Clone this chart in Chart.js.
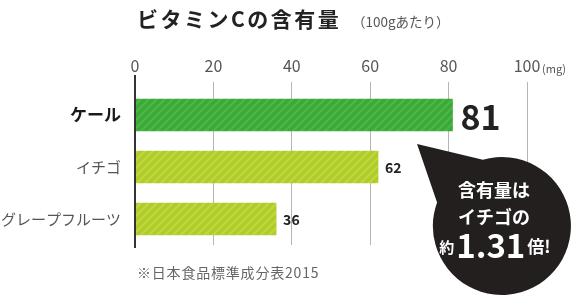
<!DOCTYPE html>
<html>
<head>
<meta charset="utf-8">
<script src="https://cdn.jsdelivr.net/npm/chart.js@4"></script>
<style>
  html, body { margin: 0; padding: 0; background: #fff; }
  #wrap { position: relative; width: 585px; height: 295px; }
</style>
</head>
<body>
<div id="wrap"><canvas id="vitaminChart" width="585" height="295"></canvas></div>
<script>
const foods = ['ケール', 'イチゴ', 'グレープフルーツ'];
const vitaminC = [81, 62, 36];
const xTicks = [0, 20, 40, 60, 80, 100];

const JP = '"Noto Sans CJK JP", "Noto Sans", sans-serif';

// crayon-ish fill for the bars
function makeFill(base, light, dark) {
  const c = document.createElement('canvas');
  c.width = 24; c.height = 24;
  const g = c.getContext('2d');
  g.fillStyle = base;
  g.fillRect(0, 0, 24, 24);
  g.lineWidth = 1.2;
  for (let i = -24; i < 48; i += 8) {
    g.strokeStyle = light;
    g.beginPath(); g.moveTo(i, 24); g.lineTo(i + 24, 0); g.stroke();
    g.strokeStyle = dark;
    g.beginPath(); g.moveTo(i + 4, 24); g.lineTo(i + 28, 0); g.stroke();
  }
  return g.createPattern(c, 'repeat');
}

const kaleFill = makeFill('#3fae3c', 'rgba(130,210,90,0.35)', 'rgba(30,140,40,0.25)');
const fruitFill = makeFill('#b3d02e', 'rgba(225,240,120,0.35)', 'rgba(150,185,20,0.25)');

const extras = {
  id: 'extras',
  afterDraw(chart) {
    const { ctx, chartArea, scales } = chart;
    const x = scales.x;
    const x0 = x.getPixelForValue(0);
    ctx.save();

    // title
    ctx.fillStyle = '#222';
    ctx.textBaseline = 'middle';
    ctx.textAlign = 'left';
    ctx.font = 'bold 21px ' + JP;
    ctx.letterSpacing = '2.5px';
    ctx.fillText('ビタミンCの含有量', 137, 19);
    ctx.letterSpacing = '0px';
    ctx.fillStyle = '#555';
    ctx.font = '13.5px ' + JP;
    ctx.fillText('（100gあたり）', 352, 22);

    // unit next to the last tick
    ctx.font = '11px ' + JP;
    ctx.fillStyle = '#555';
    ctx.fillText('(mg)', x.getPixelForValue(100) + 15, 69);

    // axis line at 0
    ctx.strokeStyle = '#333';
    ctx.lineWidth = 2;
    ctx.beginPath();
    ctx.moveTo(x0, chartArea.top - 14);
    ctx.lineTo(x0, chartArea.bottom + 3);
    ctx.stroke();

    // value labels
    const bars = chart.getDatasetMeta(0).data;
    bars.forEach((bar, i) => {
      ctx.fillStyle = '#222';
      ctx.textAlign = 'left';
      ctx.textBaseline = 'middle';
      if (i === 0) {
        ctx.font = 'bold 34px ' + JP;
        ctx.fillText(String(vitaminC[i]), bar.x + 8, bar.y + 2);
      } else {
        ctx.font = 'bold 14px ' + JP;
        ctx.fillText(String(vitaminC[i]), bar.x + 7, bar.y + 1);
      }
    });

    // callout bubble
    const cx = x.getPixelForValue(93.6), cy = chartArea.bottom - 19, r = 69;
    const tipX = bars[1].x + 39, tipY = bars[0].y + 29;
    const a1 = -106 * Math.PI / 180, a2 = -160 * Math.PI / 180;
    ctx.fillStyle = '#231f1f';
    ctx.beginPath();
    ctx.moveTo(tipX, tipY);
    ctx.arc(cx, cy, r, a1, a2 + Math.PI * 2, false);
    ctx.closePath();
    ctx.fill();

    ctx.fillStyle = '#fff';
    ctx.textAlign = 'center';
    ctx.font = 'bold 18px ' + JP;
    ctx.fillText('含有量は', cx - 8, cy - 36);
    ctx.fillText('イチゴの', cx - 8, cy - 9);

    ctx.textAlign = 'left';
    const parts = [
      ['約', 'bold 15px ' + JP, 0],
      ['1.31', 'bold 33px ' + JP, 1],
      ['倍!', 'bold 17px ' + JP, 2]
    ];
    let total = 0;
    parts.forEach(p => { ctx.font = p[1]; total += ctx.measureText(p[0]).width + 2; });
    let px = cx - 6 - total / 2;
    parts.forEach(p => {
      ctx.font = p[1];
      ctx.fillText(p[0], px, cy + 19 + (p[2] === 1 ? 0 : 2));
      px += ctx.measureText(p[0]).width + 2;
    });

    // source note
    ctx.fillStyle = '#666';
    ctx.font = '14px ' + JP;
    ctx.letterSpacing = '0.8px';
    ctx.textBaseline = 'middle';
    ctx.fillText('※日本食品標準成分表2015', 137, 273);
    ctx.letterSpacing = '0px';

    ctx.restore();
  }
};

new Chart(document.getElementById('vitaminChart').getContext('2d'), {
  type: 'bar',
  data: {
    labels: foods,
    datasets: [{
      data: vitaminC,
      backgroundColor: [kaleFill, fruitFill, fruitFill],
      borderWidth: 0,
      barThickness: 32
    }]
  },
  options: {
    indexAxis: 'y',
    responsive: false,
    animation: false,
    layout: { padding: { left: 0, right: 58, top: 0, bottom: 50 } },
    plugins: {
      legend: { display: false },
      tooltip: { enabled: false }
    },
    scales: {
      x: {
        position: 'top',
        min: 0,
        max: 100,
        afterFit: s => { s.height = 89; },
        afterBuildTicks: s => { s.ticks = xTicks.map(v => ({ value: v })); },
        ticks: {
          color: '#555',
          padding: 6,
          font: { family: JP, size: 16 }
        },
        grid: {
          color: c => c.index === 0 ? 'rgba(0,0,0,0)' : '#b5b5b5',
          lineWidth: 1,
          tickLength: 7
        },
        border: { display: false }
      },
      y: {
        afterFit: s => { s.width = 135; },
        ticks: {
          padding: 14,
          color: c => c.index === 0 ? '#1a1a1a' : '#555',
          font: c => c.index === 0
            ? { family: JP, size: 17, weight: 'bold' }
            : { family: JP, size: 15 }
        },
        grid: { display: false, drawTicks: false },
        border: { display: false }
      }
    }
  },
  plugins: [extras]
});
</script>
</body>
</html>
